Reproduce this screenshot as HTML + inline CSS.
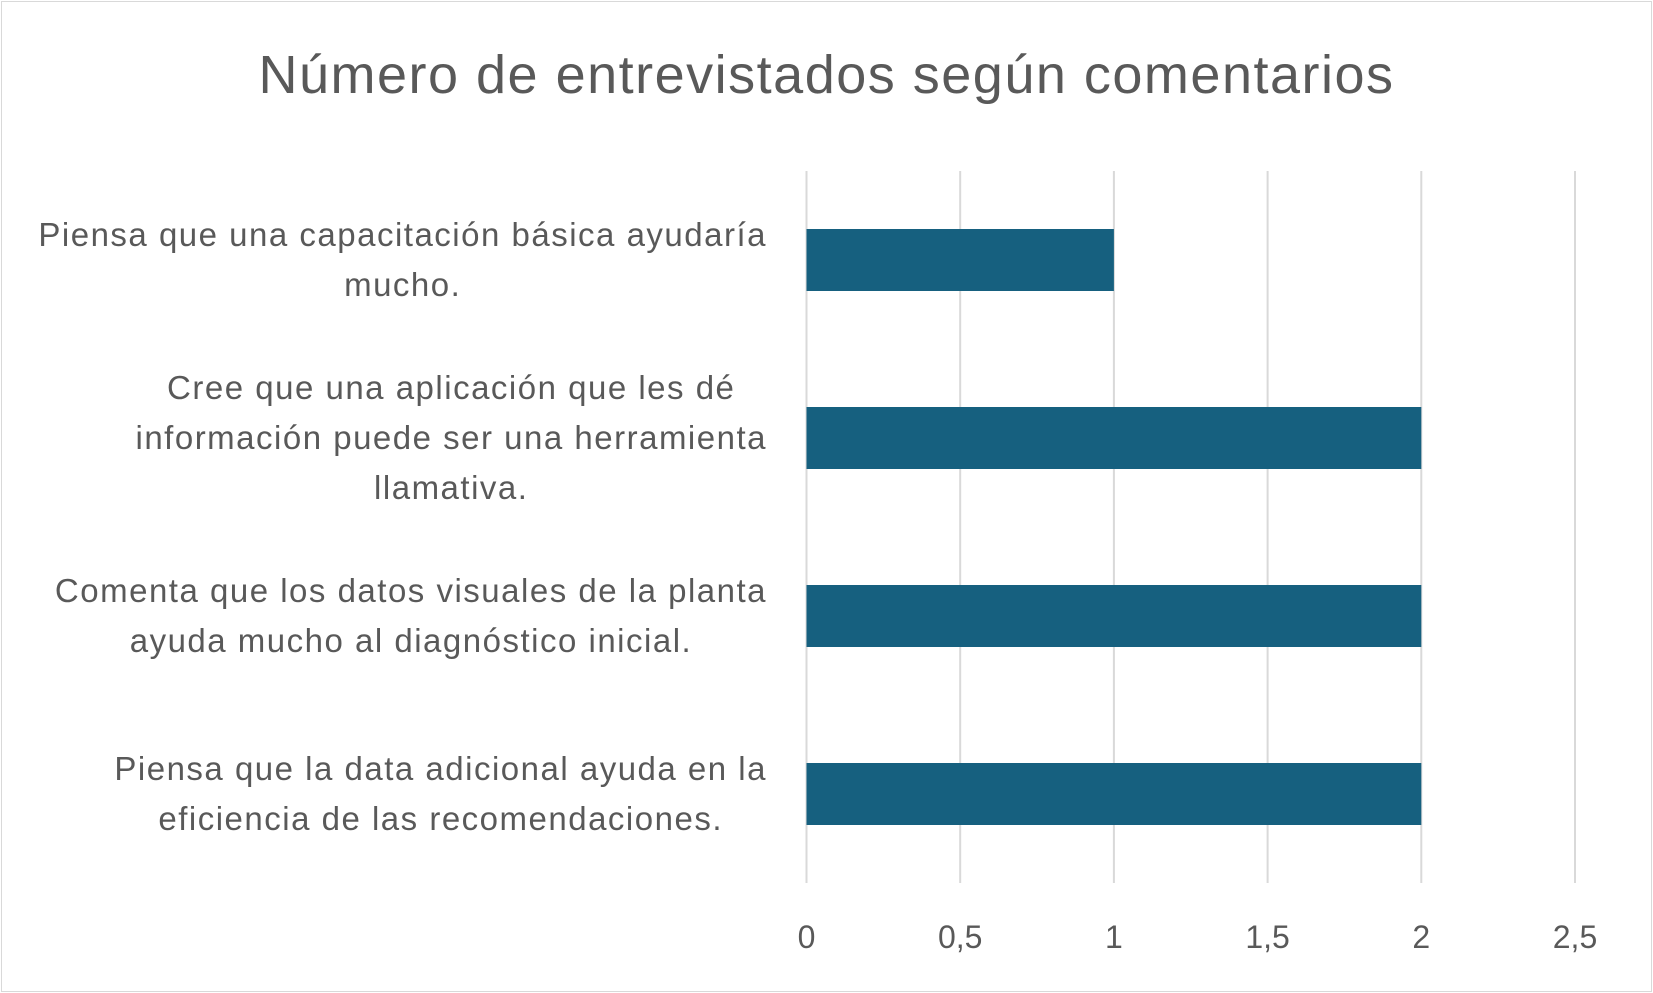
<!DOCTYPE html>
<html><head><meta charset="utf-8"><style>
body{margin:0;background:#fff;}
#chart{position:relative;width:1653px;height:993px;font-family:"Liberation Sans",sans-serif;color:#595959;overflow:hidden;}
#frame{position:absolute;left:1px;top:1px;width:1649px;height:989px;border:1px solid #d9d9d9;}
#title{position:absolute;left:0;width:1653px;top:44px;text-align:center;font-size:54px;letter-spacing:1.5px;}
.lab{position:absolute;right:886px;display:flex;justify-content:flex-end;align-items:center;height:178px;}
.lab div{text-align:center;font-size:33px;letter-spacing:1.5px;line-height:50px;white-space:nowrap;}
</style></head><body>
<div id="chart">
<div id="frame"></div>
<div id="title">Número de entrevistados según comentarios</div>
<svg id="svg" width="1653" height="993" style="position:absolute;left:0;top:0"></svg>
<div id="labels"></div>
</div>
<script>
const categories=["Piensa que una capacitación básica ayudaría<br>mucho.","Cree que una aplicación que les dé<br>información puede ser una herramienta<br>llamativa.","Comenta que los datos visuales de la planta<br>ayuda mucho al diagnóstico inicial.","Piensa que la data adicional ayuda en la<br>eficiencia de las recomendaciones."];
const values=[1,2,2,2];
const ticks=[0,0.5,1,1.5,2,2.5];
const tickLabels=["0","0,5","1","1,5","2","2,5"];
const NS="http://www.w3.org/2000/svg";
const svg=document.getElementById('svg');
const x0=806.5,x1=1575,yTop=171,yBot=883,xMax=2.5;
const xs=v=>x0+(x1-x0)*v/xMax;
const band=(yBot-yTop)/categories.length;
ticks.forEach((t,i)=>{
 const l=document.createElementNS(NS,'line');
 l.setAttribute('x1',xs(t));l.setAttribute('x2',xs(t));l.setAttribute('y1',yTop);l.setAttribute('y2',yBot);
 l.setAttribute('stroke','#d9d9d9');l.setAttribute('stroke-width','2');
 
 
 svg.appendChild(l);
 const tx=document.createElementNS(NS,'text');
 tx.setAttribute('x',xs(t));tx.setAttribute('y',948);tx.setAttribute('text-anchor','middle');
 tx.setAttribute('font-size','32');tx.setAttribute('fill','#595959');tx.setAttribute('font-family','Liberation Sans, sans-serif');
 tx.textContent=tickLabels[i];
 
 
 svg.appendChild(tx);
});
const labels=document.getElementById('labels');
values.forEach((v,i)=>{
 const c=yTop+band*(i+0.5);
 const r=document.createElementNS(NS,'rect');
 r.setAttribute('x',xs(0));r.setAttribute('y',c-31);r.setAttribute('width',xs(v)-xs(0));r.setAttribute('height',62);
 r.setAttribute('fill','#16607f');
 
 
 svg.appendChild(r);
 const d=document.createElement('div');
 d.className='lab';d.style.top=(c-band/2)+'px';
 d.innerHTML='<div>'+categories[i]+'</div>';
 
 
 labels.appendChild(d);
});
</script>
</body></html>
